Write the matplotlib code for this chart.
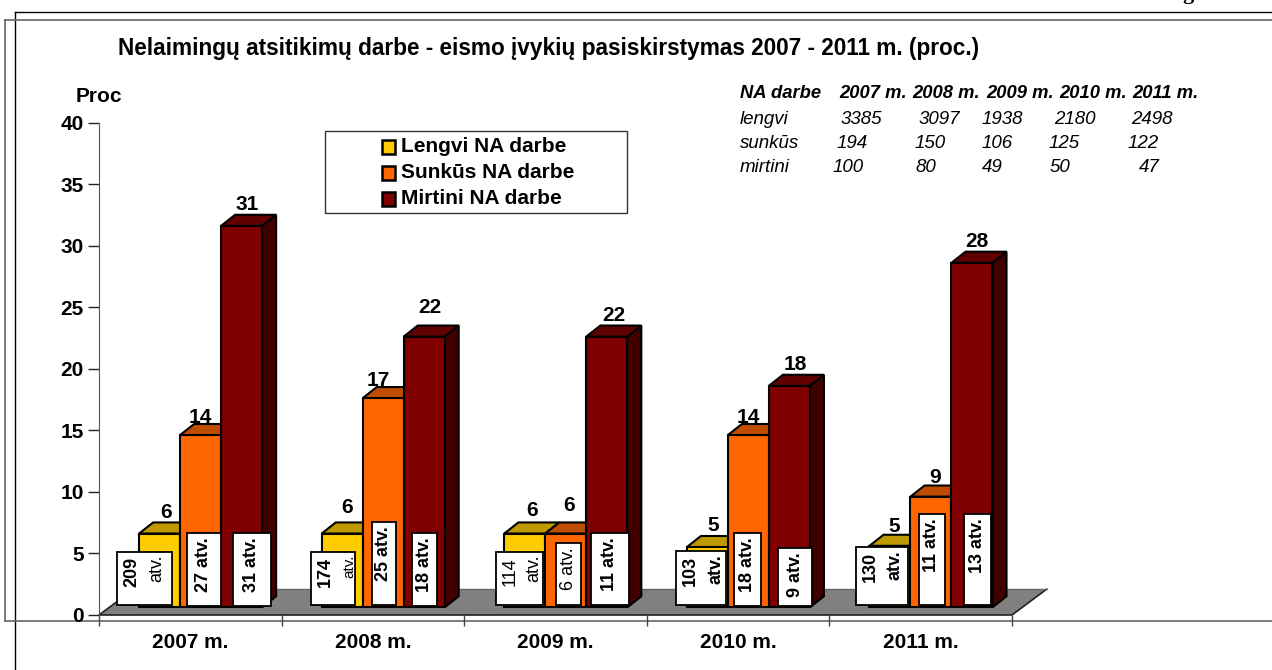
import matplotlib
matplotlib.use("Agg")
import matplotlib.pyplot as plt
from matplotlib.patches import Rectangle, Polygon
from matplotlib.lines import Line2D

plt.rcParams['font.family'] = ['Liberation Sans', 'DejaVu Sans']

years = ["2007 m.", "2008 m.", "2009 m.", "2010 m.", "2011 m."]
lengvi = [6, 6, 6, 4.9, 5]
sunkus = [14, 17, 6, 14, 9]
mirtini = [31, 22, 22, 18, 28]
lengvi_txt = ["6", "6", "6", "5", "5"]
sunkus_txt = ["14", "17", "6", "14", "9"]
mirtini_txt = ["31", "22", "22", "18", "28"]
series_names = ["Lengvi NA darbe", "Sunkūs NA darbe", "Mirtini NA darbe"]

title = "Nelaimingų atsitikimų darbe - eismo įvykių pasiskirstymas 2007 - 2011 m. (proc.)"
table_head = ["NA darbe", "2007 m.", "2008 m.", "2009 m.", "2010 m.", "2011 m."]
table_lengvi = ["lengvi", "3385", "3097", "1938", "2180", "2498"]
table_sunkus = ["sunkūs", "194", "150", "106", "125", "122"]
table_mirtini = ["mirtini", "100", "80", "49", "50", "47"]

atv_lengvi = ["209", "174", "114", "103", "130"]
atv_sunkus = ["27 atv.", "25 atv.", "6 atv.", "18 atv.", "11 atv."]
atv_mirtini = ["31 atv.", "18 atv.", "11 atv.", "9 atv.", "13 atv."]

W, H = 1272, 670
colors = ["#FFCC00", "#FF6600", "#800000"]
tops = ["#BF9900", "#BF4D00", "#600000"]
sides = ["#806600", "#803300", "#400000"]

# pixel layout of the boxes (left, top, right, bottom)
box_lengvi = [(117, 552, 172, 605), (311, 552, 355, 605), (496, 552, 543, 605), (676, 551, 726, 605), (856, 547, 908, 605)]
box_sunkus = [(187, 533, 221, 606), (372, 522, 396, 605), (556, 543, 581, 605), (734, 533, 761, 606), (919, 514, 945, 605)]
box_mirtini = [(233, 533, 271, 606), (412, 533, 437, 606), (591, 533, 629, 605), (778, 548, 812, 606), (964, 514, 991, 605)]
weight_lengvi = ["bold", "bold", "normal", "bold", "bold"]
weight_sunkus = ["bold", "bold", "normal", "bold", "bold"]
atv_inset = [15, 6, 9, 10, 13]
# hand placed value labels, in pixels from the bar centre
label_shift = [[6, 0, 6], [5, -5, 6], [7, 3, 7], [6, 0, 6], [4, 4, 5]]
label_drop = [[1, 4, 0], [-4, 4, -8], [-1, -6, 0], [0, 4, 0], [2, 2, 0]]

fig = plt.figure(figsize=(W / 100, H / 100), dpi=100)
ax = fig.add_axes([99 / W, 1 - 615 / H, 913 / W, (615 - 122.7) / H])
ax.set_xlim(0, 5)
ax.set_ylim(0, 40)
ax.patch.set_visible(False)

def fx(x):
    return x / W

def fy(y):
    return 1 - y / H

def page_line(x0, y0, x1, y1, c="black", lw=1.0):
    fig.add_artist(Line2D([fx(x0), fx(x1)], [fy(y0), fy(y1)], color=c, lw=lw, zorder=0))

def page_text(x, y, s, **kw):
    kw.setdefault("color", "black")
    fig.text(fx(x), fy(y), s, **kw)

# page frames
page_line(15, 12, W, 12, "black", 1.0)
page_line(15, 12, 15, H, "black", 1.0)
page_line(5, 20, W, 20, "#666666", 1.2)
page_line(5, 20, 5, 621, "#666666", 1.2)
page_line(5, 620.5, W, 620.5, "#666666", 1.2)

# axes
for s in ["top", "right", "bottom"]:
    ax.spines[s].set_visible(False)
ax.spines["left"].set_bounds(-0.55, 40)
ax.spines["left"].set_color("#555555")
ax.set_yticks(range(0, 41, 5))
ax.tick_params(axis="y", length=8, width=1, pad=3, labelsize=15, color="#222222")
for t in ax.get_yticklabels():
    t.set_fontweight("bold")
ax.set_xticks(range(6))
ax.set_xticklabels([])
ax.tick_params(axis="x", length=8, width=1, direction="out", color="#444444")
for i, y in enumerate(years):
    ax.text(i + 0.5, -2.2, y, ha="center", va="center", fontsize=15, fontweight="bold")

# floor
dx_floor, dy_floor = 0.19, 2.1
ax.add_patch(Polygon([(0, 0), (5, 0), (5 + dx_floor, dy_floor), (dx_floor, dy_floor)], closed=True,
                     fc="#808080", ec="none", clip_on=False, zorder=1))
ax.plot([dx_floor, 0, 5, 5 + dx_floor], [dy_floor, 0, 0, dy_floor], color="#222222", lw=1.2, clip_on=False, zorder=1.5)
ax.plot([dx_floor, 5 + dx_floor], [dy_floor, dy_floor], color="#666666", lw=1.0, clip_on=False, zorder=1.5)

# bars
base = 0.62
w = 0.2245
dx, dy = 0.077, 0.9
values = [lengvi, sunkus, mirtini]
labels = [lengvi_txt, sunkus_txt, mirtini_txt]
px_x = 5 / 913
px_y = 40 / (615 - 122.7)
for i in range(len(years)):
    for j in range(3):
        v = values[j][i]
        x0 = i + 0.2195 + j * w
        top = base + v
        ax.add_patch(Polygon([(x0 + w, base), (x0 + w + dx, base + dy), (x0 + w + dx, top + dy), (x0 + w, top)],
                             closed=True, fc=sides[j], ec="black", lw=1.5, clip_on=False, zorder=2 + j))
        ax.add_patch(Polygon([(x0, top), (x0 + dx, top + dy), (x0 + w + dx, top + dy), (x0 + w, top)],
                             closed=True, fc=tops[j], ec="black", lw=1.5, clip_on=False, zorder=2 + j))
        ax.add_patch(Rectangle((x0, base), w, v, fc=colors[j], ec="black", lw=1.5, clip_on=False, zorder=2 + j))
        ax.text(x0 + w / 2 + label_shift[i][j] * px_x, top + dy + 0.85 - label_drop[i][j] * px_y, labels[j][i],
                ha="center", va="center", fontsize=15, fontweight="bold", zorder=8)

# white boxes on the bars
def atv_box(b):
    fig.add_artist(Rectangle((fx(b[0]), fy(b[3])), (b[2] - b[0]) / W, (b[3] - b[1]) / H, fc="white", ec="black",
                             lw=1.3, transform=fig.transFigure, zorder=5))

for i in range(len(years)):
    b = box_lengvi[i]
    atv_box(b)
    page_text(b[0] + 14.5, b[1] + 5, atv_lengvi[i], rotation=90, ha="center", va="top", fontsize=13,
              fontweight=weight_lengvi[i], zorder=6)
    small = 11 if i == 1 else 13
    page_text(b[2] - atv_inset[i], b[1] + 3, "atv.", rotation=90, ha="center", va="top", fontsize=small,
              fontweight="bold" if i in (3, 4) else "normal", zorder=6)
    b = box_sunkus[i]
    atv_box(b)
    page_text((b[0] + b[2]) / 2, b[1] + 4, atv_sunkus[i], rotation=90, ha="center", va="top",
              fontsize=13, fontweight=weight_sunkus[i], zorder=6)
    b = box_mirtini[i]
    atv_box(b)
    page_text((b[0] + b[2]) / 2, b[1] + 4, atv_mirtini[i], rotation=90, ha="center", va="top",
              fontsize=13, fontweight="bold", zorder=6)

# legend
fig.add_artist(Rectangle((fx(325), fy(213)), 302 / W, 82 / H, fc="white", ec="#333333", lw=1.0,
                         transform=fig.transFigure, zorder=5))
for k, name in enumerate(series_names):
    yy = 146.5 + k * 26
    fig.add_artist(Rectangle((fx(382), fy(yy + 7)), 13 / W, 13 / H, fc=colors[k], ec="black", lw=1.8,
                             transform=fig.transFigure, zorder=6))
    page_text(401, yy, name, ha="left", va="center", fontsize=15, fontweight="bold", zorder=6)

# titles
page_text(118, 48, title, ha="left", va="center", fontsize=16.3, fontweight="bold")
page_text(76, 97, "Proc", ha="left", va="center", fontsize=15, fontweight="bold")

# small table
head_x = [740, 839, 912, 986, 1059, 1132]
lengvi_x = [740, 841, 919, 982, 1054, 1131]
sunkus_x = [740, 837, 915, 982, 1049, 1128]
mirtini_x = [740, 833, 915, 982, 1050, 1139]
for s, x in zip(table_head, head_x):
    page_text(x, 94, s, ha="left", va="center", fontsize=13.2, fontweight="bold", fontstyle="italic")
for s, x in zip(table_lengvi, lengvi_x):
    page_text(x, 119, s, ha="left", va="center", fontsize=13.5, fontstyle="italic")
for s, x in zip(table_sunkus, sunkus_x):
    page_text(x, 143, s, ha="left", va="center", fontsize=13.5, fontstyle="italic")
for s, x in zip(table_mirtini, mirtini_x):
    page_text(x, 167, s, ha="left", va="center", fontsize=13.5, fontstyle="italic")

# piece of a heading cut by the top of the page
page_text(1182, -1.5, "g", ha="left", va="baseline", fontsize=16, fontweight="bold", family="Liberation Serif")

fig.savefig("out.png", dpi=100)
